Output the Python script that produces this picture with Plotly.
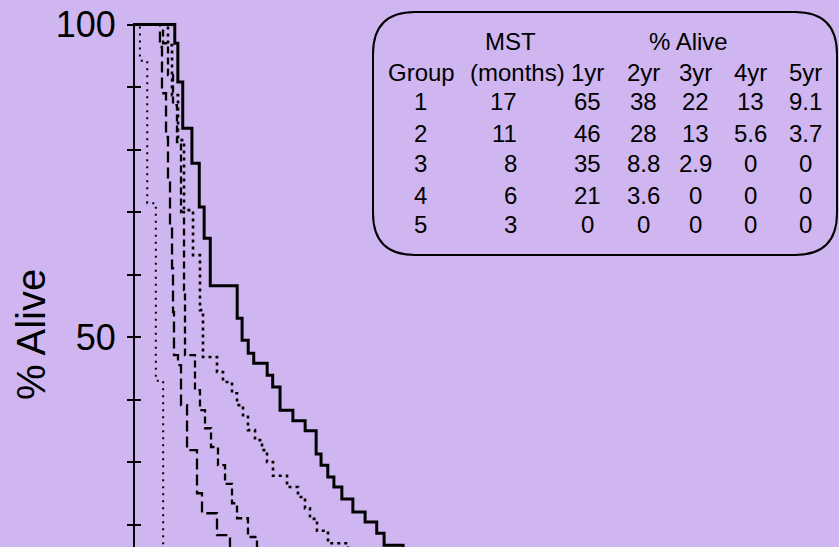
import plotly.graph_objects as go

# ---------------- data (Kaplan-Meier step points: months, % alive) ----------------
g1_months = [0, 6.5, 7.0, 7.8, 9.3, 10.5, 11.3, 12.3, 16.7, 17.5, 18.5, 19.4, 21.6, 22.5,
             23.7, 25.8, 27.8, 29.6, 30.4, 31.5, 32.5, 33.8, 35.6, 37.6, 39.5, 40.7, 43.8,
             46.0, 52.0, 58.0, 64.0]
g1_alive = [100, 97.0, 90.8, 83.4, 77.8, 70.8, 65.8, 58.2, 53.0, 49.5, 47.4, 45.8, 43.9, 42.0,
            38.3, 36.6, 35.0, 31.3, 29.5, 27.6, 26.0, 24.1, 22.0, 20.4, 18.6, 16.7, 14.8,
            13.0, 11.0, 9.1, 7.5]

g2_months = [0, 5.39, 6.05, 7.03, 8.01, 9.48, 10.62, 11.11, 13.40, 14.38, 15.85, 16.67, 17.65,
             18.46, 19.61, 20.75, 21.57, 22.55, 24.84, 26.63, 27.78, 28.59, 29.74, 31.54,
             34.80, 35.5, 44.0, 48.0, 55.0]
g2_alive = [100, 96.7, 88.7, 81.5, 70.3, 63.1, 54.3, 46.8, 44.4, 42.8, 41.0, 39.1, 37.5,
            35.1, 33.5, 31.9, 30.0, 27.8, 26.0, 24.4, 22.6, 20.9, 19.0, 17.0,
            14.8, 13.0, 9.3, 5.6, 3.7]

g3_months = [0, 4.58, 5.39, 6.21, 6.86, 7.52, 8.01, 8.17, 9.80, 10.62, 11.44, 12.42, 13.56,
             14.71, 15.85, 16.67, 18.46, 19.93, 22.0, 25.0, 30.0, 35.0, 40.0]
g3_alive = [100, 97.0, 91.9, 87.1, 81.2, 70.0, 57.5, 47.1, 41.5, 38.3, 35.4, 32.4, 29.5,
            26.5, 23.4, 21.0, 18.0, 15.1, 11.8, 8.8, 5.9, 2.9, 0]

g4_months = [0, 4.08, 4.41, 5.07, 5.39, 5.72, 6.05, 6.21, 6.37, 7.03, 7.52, 8.50, 10.13,
             10.95, 13.40, 15.52, 18.8, 22.0, 30.0]
g4_alive = [100, 96.4, 89.0, 82.0, 75.0, 67.9, 61.0, 54.0, 47.1, 45.5, 39.1, 31.9, 25.0,
            21.8, 18.3, 14.3, 10.7, 3.6, 0]

g5_months = [0, 0.8, 2.0, 3.4, 4.6, 6.0, 8.0]
g5_alive = [100, 94.2, 71.4, 43.0, 12.0, 4.0, 0]

# table contents
tbl_group = ["1", "2", "3", "4", "5"]
tbl_mst = ["17", "11", "8", "6", "3"]
tbl_1yr = ["65", "46", "35", "21", "0"]
tbl_2yr = ["38", "28", "8.8", "3.6", "0"]
tbl_3yr = ["22", "13", "2.9", "0", "0"]
tbl_4yr = ["13", "5.6", "0", "0", "0"]
tbl_5yr = ["9.1", "3.7", "0", "0", "0"]
yr_headers = ["1yr", "2yr", "3yr", "4yr", "5yr"]

y_ticks = [20, 30, 40, 50, 60, 70, 80, 90, 100]
y_tick_text = ["", "", "", "50", "", "", "", "", "100"]

# ---------------- layout geometry ----------------
W, H = 839, 547
L, R, T, B = 135, 0, 23, 0
BG = "#CFB6F0"
FONT = "Liberation Sans, Arial, Helvetica, sans-serif"


def px_x(p):
    return (p - L) / (W - L - R)


def px_y(p):
    return 1 - (p - T) / (H - T - B)


fig = go.Figure()

styles = [
    (g1_months, g1_alive, dict(color="black", width=3.0, dash="solid")),
    (g2_months, g2_alive, dict(color="black", width=2.6, dash="3px,4px")),
    (g3_months, g3_alive, dict(color="black", width=2.3, dash="7px,4px")),
    (g4_months, g4_alive, dict(color="black", width=2.3, dash="11px,5px")),
    (g5_months, g5_alive, dict(color="black", width=2.0, dash="2px,5px")),
]
for i, (mx, al, ln) in enumerate(styles):
    fig.add_trace(go.Scatter(x=mx, y=al, mode="lines", line=dict(shape="hv", **ln),
                             name=f"Group {i+1}", showlegend=False, hoverinfo="skip"))

# invisible trace on second y axis (for inside ticks)
fig.add_trace(go.Scatter(x=[0], y=[50], yaxis="y2", mode="lines", showlegend=False,
                         line=dict(width=0), hoverinfo="skip"))

y_range = [16.4, 100.24]
fig.update_layout(
    width=W, height=H,
    margin=dict(l=L, r=R, t=T, b=B, pad=0),
    paper_bgcolor=BG, plot_bgcolor=BG,
    font=dict(family=FONT, color="black"),
    xaxis=dict(range=[0, (W - L - R) / 6.12], visible=False, showgrid=False, zeroline=False),
    yaxis=dict(range=y_range, tickvals=y_ticks, ticktext=y_tick_text, ticks="outside",
               ticklen=6, tickwidth=2, tickcolor="black", showline=True, linecolor="black",
               linewidth=2, showgrid=False, zeroline=False,
               tickfont=dict(size=36, family=FONT, color="black"), ticklabelstandoff=4),
    yaxis2=dict(range=y_range, overlaying="y", side="left", tickvals=y_ticks, ticks="inside",
                ticklen=6, tickwidth=2, tickcolor="black", showticklabels=False,
                showline=False, showgrid=False, zeroline=False),
    showlegend=False,
)

# axis title
fig.add_annotation(text="% Alive", xref="paper", yref="paper", x=px_x(31), y=px_y(335),
                   textangle=-90, showarrow=False, xanchor="center", yanchor="middle",
                   font=dict(size=40, family=FONT, color="black"))

# rounded box
bx1, bx2, by1, by2, r = 373, 837, 12, 255, 42
pts = lambda x, y: f"{px_x(x):.5f},{px_y(y):.5f}"
path = (f"M {pts(bx1 + r, by1)} L {pts(bx2 - r, by1)} Q {pts(bx2, by1)} {pts(bx2, by1 + r)} "
        f"L {pts(bx2, by2 - r)} Q {pts(bx2, by2)} {pts(bx2 - r, by2)} "
        f"L {pts(bx1 + r, by2)} Q {pts(bx1, by2)} {pts(bx1, by2 - r)} "
        f"L {pts(bx1, by1 + r)} Q {pts(bx1, by1)} {pts(bx1 + r, by1)} Z")
fig.add_shape(type="path", path=path, xref="paper", yref="paper",
              line=dict(color="black", width=2), fillcolor="rgba(0,0,0,0)")

TF = dict(size=24, family=FONT, color="black")


def txt(s, x, y, anchor="center"):
    fig.add_annotation(text=s, xref="paper", yref="paper", x=px_x(x), y=px_y(y),
                       showarrow=False, xanchor=anchor, yanchor="middle", font=TF)


row_y = [102, 133, 163, 195, 225]
col_x = [587, 643, 695, 750, 805]
txt("MST", 510, 42)
txt("% Alive", 688, 42)
txt("Group", 421, 72)
txt("(months)", 517, 72)
for cx, h in zip(col_x, yr_headers):
    txt(h, cx, 72)
cols = [tbl_1yr, tbl_2yr, tbl_3yr, tbl_4yr, tbl_5yr]
for i, ry in enumerate(row_y):
    txt(tbl_group[i], 420, ry)
    txt(tbl_mst[i], 519, ry, anchor="right")
    for cx, col in zip(col_x, cols):
        txt(col[i], cx, ry)

fig.write_html("out.html", config={"displayModeBar": False, "staticPlot": True},
               post_script="document.body.style.margin='0';document.body.style.overflow='hidden';")
